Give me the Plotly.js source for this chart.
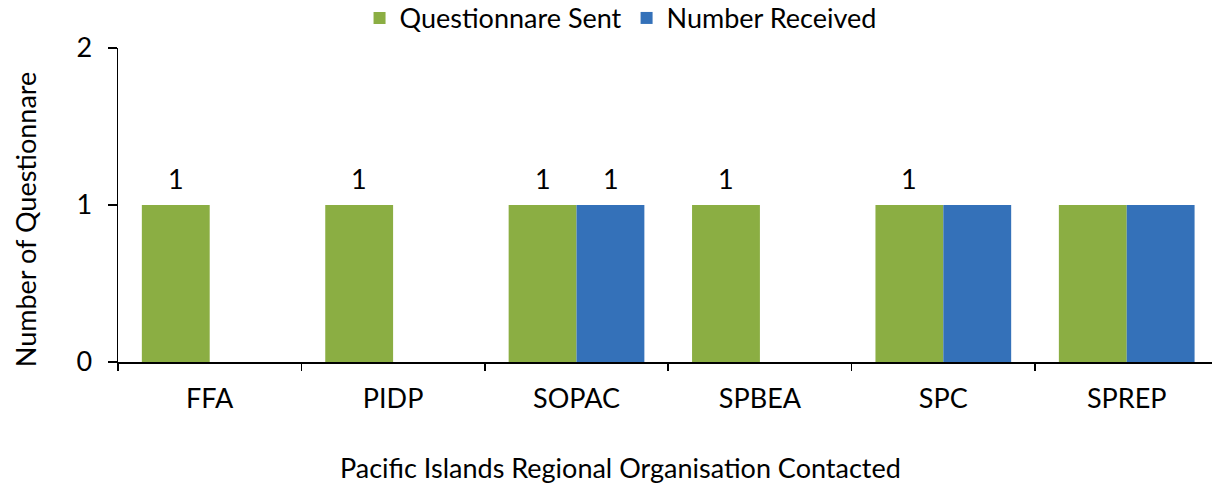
<!DOCTYPE html>
<html>
<head>
<meta charset="utf-8">
<script src="https://cdn.plot.ly/plotly-3.0.1.min.js"></script>
<style>html,body{margin:0;padding:0;background:#fff;}#chart{width:1212px;height:484px;}</style>
</head>
<body>
<div id="chart"></div>
<script>
const categories = ["FFA", "PIDP", "SOPAC", "SPBEA", "SPC", "SPREP"];
const sentValues = [1, 1, 1, 1, 1, 1];
const receivedValues = [0, 0, 1, 0, 1, 1];
const sentLabels = ["1", "1", "1", "1", "1", ""];
const receivedLabels = ["", "", "1", "", "", ""];
const yTicks = [0, 1, 2];
const xTitle = "Pacific Islands Regional Organisation Contacted";
const yTitle = "Number of Questionnare";

const FONT = "Lato, 'Open Sans', sans-serif";
const FS = 27;

const traces = [
  {
    type: "bar", name: "Questionnare Sent", x: categories, y: sentValues,
    marker: {color: "#8BAE43"}, hoverinfo: "x+y"
  },
  {
    type: "bar", name: "Number Received", x: categories, y: receivedValues,
    marker: {color: "#3471B9"}, hoverinfo: "x+y"
  }
];

const annotations = [];
categories.forEach((c, i) => {
  if (sentLabels[i]) annotations.push({x: c, y: sentValues[i], text: sentLabels[i], xshift: -34, yshift: 8, yanchor: "bottom", showarrow: false, font: {family: FONT, size: FS, color: "#000"}});
  if (receivedLabels[i]) annotations.push({x: c, y: receivedValues[i], text: receivedLabels[i], xshift: 34, yshift: 8, yanchor: "bottom", showarrow: false, font: {family: FONT, size: FS, color: "#000"}});
});
// axis titles placed as annotations to match the reference's offset positions
annotations.push({xref: "paper", yref: "paper", x: 0.459, y: -0.336, xanchor: "center", yanchor: "middle", text: xTitle, showarrow: false, font: {family: FONT, size: FS, color: "#000"}});
annotations.push({xref: "paper", yref: "paper", x: -0.085, y: 0.455, xanchor: "center", yanchor: "middle", textangle: -90, text: yTitle, showarrow: false, font: {family: FONT, size: FS, color: "#000"}});

const layout = {
  width: 1212, height: 484,
  margin: {l: 118, r: 0, t: 48, b: 122, autoexpand: false},
  paper_bgcolor: "#fff", plot_bgcolor: "#fff",
  font: {family: FONT, size: FS, color: "#000"},
  barmode: "group", bargap: 0.26, bargroupgap: 0,
  showlegend: true,
  legend: {orientation: "h", x: 0.512, xref: "container", xanchor: "center", y: 0.962, yref: "container", yanchor: "middle", font: {family: FONT, size: FS}, itemwidth: 30, tracegroupgap: 0},
  xaxis: {
    type: "category", range: [-0.5, 5.465],
    showline: true, linecolor: "#000", linewidth: 1.5,
    ticks: "outside", tickson: "boundaries", ticklen: 7, tickcolor: "#000", tickwidth: 1.5,
    ticklabelstandoff: 12,
    showgrid: false, zeroline: false,
    tickfont: {family: FONT, size: FS}
  },
  yaxis: {
    range: [0, 2], tickvals: yTicks, ticktext: yTicks.map(String),
    showline: true, linecolor: "#000", linewidth: 1.5,
    ticks: "outside", ticklen: 9, tickcolor: "#000", tickwidth: 1.5,
    ticklabelstandoff: 10,
    showgrid: false, zeroline: false,
    tickfont: {family: FONT, size: FS}
  },
  annotations: annotations
};

Plotly.newPlot("chart", traces, layout, {displayModeBar: false, staticPlot: true});
</script>
</body>
</html>
